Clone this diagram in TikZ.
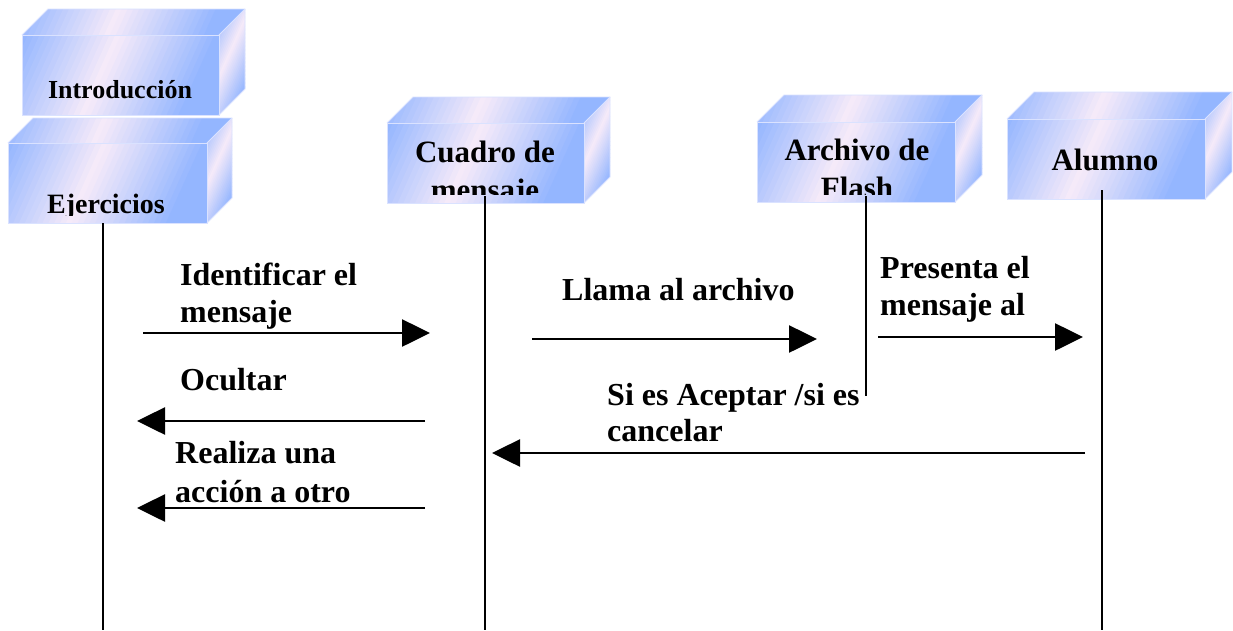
\documentclass[tikz,border=0pt]{standalone}
\usepackage{fontspec}
\setmainfont{Liberation Serif}
\usetikzlibrary{arrows.meta}
\definecolor{cubeblue}{RGB}{148,182,255}
\definecolor{cubepink}{RGB}{247,235,249}
\definecolor{cubeedge}{RGB}{218,226,255}
\tikzset{
  cubefront/.style={rectangle, inner sep=0pt, outer sep=0pt},
  cubeline/.style={draw=cubeedge, line width=0.8pt},
  boxlbl/.style={font=\fontsize{31}{38}\selectfont\bfseries, inner sep=0pt, align=center, anchor=base},
  msglbl/.style={font=\fontsize{32}{37}\selectfont\bfseries, inner sep=0pt, align=left, anchor=base west},
  msg/.style={line width=2.6pt, -{Triangle[length=28pt,width=27pt]}},
  life/.style={line width=2.4pt}
}
% diagonal stripe gradient over a box: x0, ytop, x1, ybot (y downward)
\newcommand\stripefill[4]{%
  \pgfmathsetmacro\sXa{#1}\pgfmathsetmacro\sYa{#2}%
  \pgfmathsetmacro\sXb{#3}\pgfmathsetmacro\sYb{#4}%
  \pgfmathsetmacro\sH{\sYb-\sYa}\pgfmathsetmacro\sS{0.45*\sH}%
  \pgfmathsetmacro\sW{(\sXb-\sXa+\sS)/40}%
  \foreach \k in {0,...,39}{%
    \pgfmathsetmacro\sx{\sXa-\sS+\k*\sW}%
    \pgfmathtruncatemacro\pp{max(0,100*(1-abs((\k+0.5)/40-0.42)/0.42))}%
    \fill[cubepink!\pp!cubeblue] (\sx,\sYb) -- ++(\sW+0.8,0) -- ++(\sS,-\sH) -- ++(-\sW-0.8,0) -- cycle;
  }%
}
\newcommand\mycube[6]{%
  \node[cubefront, minimum width=#4pt, minimum height=#5pt] (#1) at (#2,#3) {};
  \begin{scope}
    \clip (#1.north west) rectangle (#1.south east);
    \stripefill{#2-#4/2}{#3-#5/2}{#2+#4/2}{#3+#5/2}
  \end{scope}
  \begin{scope}
    \clip (#1.north west) -- ++(#6,-#6) -- ++(#4,0) -- (#1.north east) -- cycle;
    \stripefill{#2-#4/2}{#3-#5/2-#6}{#2+#4/2+#6}{#3-#5/2}
  \end{scope}
  \begin{scope}
    \clip (#1.north east) -- ++(#6,-#6) -- ++(0,#5) -- (#1.south east) -- cycle;
    \stripefill{#2+#4/2}{#3-#5/2-#6}{#2+#4/2+#6}{#3+#5/2}
  \end{scope}
  \draw[cubeline] (#1.south west) rectangle (#1.north east);
  \draw[cubeline] (#1.north west) -- ++(#6,-#6) -- ++(#4,0) -- ++(0,#5) -- (#1.south east);
  \draw[cubeline] (#1.north east) -- ++(#6,-#6);
}
\begin{document}
\begin{tikzpicture}[x=1pt, y=-1pt]
\useasboundingbox[fill=white] (0,0) rectangle (1233,630);

% cubes
\mycube{intro}{120.5}{75}{197}{80}{26}
\node[boxlbl, font=\fontsize{26}{30}\selectfont\bfseries] (introT) at (120,98) {Introducción};
\mycube{ejer}{107.5}{183}{199}{80}{25}
\begin{scope}
  \clip (ejer.north west) rectangle (207,215);
  \node[boxlbl, font=\fontsize{28}{32}\selectfont\bfseries] (ejerT) at (106,213) {Ejercicios};
\end{scope}
\mycube{cuadro}{485.5}{163}{197}{80}{26}
\begin{scope}
  \clip (cuadro.north west) rectangle (584,194);
  \node[boxlbl] (cuadroT) at (485,200) {Cuadro de\\mensaje};
\end{scope}
\mycube{archivo}{856}{162}{198}{80}{27}
\begin{scope}
  \clip (archivo.north west) rectangle (955,194);
  \node[boxlbl] (archivoT) at (857,198) {Archivo de\\Flash};
\end{scope}
\mycube{alumno}{1106}{159}{198}{80}{27}
\node[boxlbl] (alumnoT) at (1105,170) {Alumno};

% lifelines
\coordinate (l1a) at (103,223);  \coordinate (l1b) at (103,630);
\coordinate (l2a) at (485,196);  \coordinate (l2b) at (485,630);
\coordinate (l3a) at (866,196);  \coordinate (l3b) at (866,396);
\coordinate (l4a) at (1102,190); \coordinate (l4b) at (1102,630);
\draw[life] (l1a) -- (l1b);
\draw[life] (l2a) -- (l2b);
\draw[life] (l3a) -- (l3b);
\draw[life] (l4a) -- (l4b);

% messages
\coordinate (m1a) at (143,333);  \coordinate (m1b) at (430,333);
\coordinate (m2a) at (425,421);  \coordinate (m2b) at (137,421);
\coordinate (m3a) at (425,508);  \coordinate (m3b) at (137,508);
\coordinate (m4a) at (532,339);  \coordinate (m4b) at (817,339);
\coordinate (m5a) at (1085,453); \coordinate (m5b) at (492,453);
\coordinate (m6a) at (878,337);  \coordinate (m6b) at (1083,337);
\draw[msg] (m1a) -- (m1b);
\draw[msg] (m2a) -- (m2b);
\draw[msg] (m3a) -- (m3b);
\draw[msg] (m4a) -- (m4b);
\draw[msg] (m5a) -- (m5b);
\draw[msg] (m6a) -- (m6b);

\node[msglbl] (t1) at (180,322) {Identificar el\\mensaje};
\node[msglbl] (t2) at (180,390) {Ocultar};
\node[msglbl, font=\fontsize{32}{39}\selectfont\bfseries] (t3) at (175,502) {Realiza una\\acción a otro};
\node[msglbl] (t4) at (562,300) {Llama al archivo};
\node[msglbl, font=\fontsize{32}{36}\selectfont\bfseries] (t5) at (607,441) {Si es Aceptar /si es\\cancelar};
\node[msglbl] (t6) at (880,315) {Presenta el\\mensaje al};
\end{tikzpicture}
\end{document}
